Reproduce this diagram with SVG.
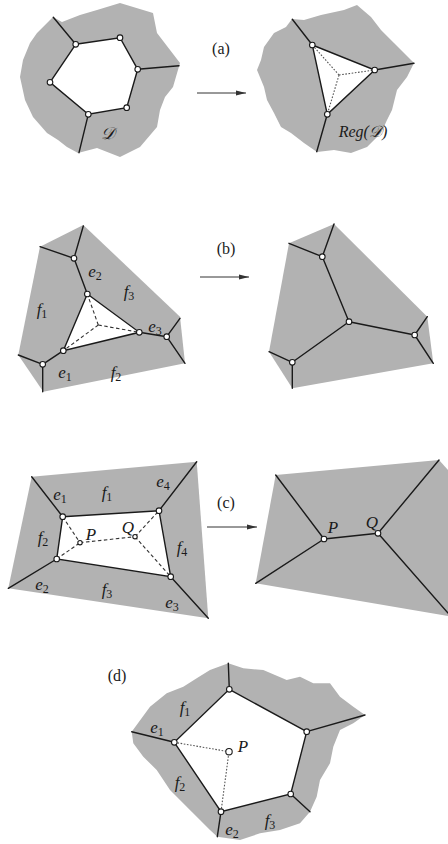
<svg xmlns="http://www.w3.org/2000/svg" width="448" height="844" viewBox="0 0 448 844">
<style>
.reg{fill:#b2b2b2;stroke:none}
.hole{fill:#fff;stroke:none}
.e{stroke:#1a1a1a;stroke-width:1.4;fill:none;stroke-linecap:round}
.dash{stroke:#333;stroke-width:1.1;fill:none;stroke-dasharray:3.5 2.5}
.dot{stroke:#555;stroke-width:1.1;fill:none;stroke-dasharray:1.6 1.6}
.v{fill:#fff;stroke:#1a1a1a;stroke-width:1.1}
.lbl{font-family:"Liberation Serif","Times New Roman","DejaVu Serif",serif;font-style:italic;font-size:17px;fill:#1a1a1a;text-anchor:middle}
.sub{font-size:12px;font-style:normal}
.tag{font-family:"Liberation Serif","Times New Roman","DejaVu Serif",serif;font-size:16px;fill:#1a1a1a;text-anchor:middle}
.arr{stroke:#333;stroke-width:1;fill:none}
</style>
<defs>
<marker id="ah" viewBox="0 0 10 6" refX="10" refY="3" markerWidth="10" markerHeight="6" markerUnits="userSpaceOnUse" orient="auto">
<path d="M0,0.5 L10,3 L0,5.5 z" fill="#333"/>
</marker>
</defs>

<g id="panel-a-left">
<polygon class="reg" points="53,17 62,22 80,15 97,10 120,3 153,13 157,33 180,63 173,87 165,97 160,110 157,127 140,147 120,157 97,148 78,153 67,147 58,140 47,133 33,117 25,100 20,77 23,60 30,43 37,33 50,20"/>
<polygon class="hole" points="75.7,44.3 120,37.7 137.7,69.3 126.7,107.7 88.3,114.3 50,82.3"/>
<polygon class="e" points="75.7,44.3 120,37.7 137.7,69.3 126.7,107.7 88.3,114.3 50,82.3"/>
<line class="e" x1="75.7" y1="44.3" x2="53.3" y2="17.3"/>
<line class="e" x1="137.7" y1="69.3" x2="179" y2="65.7"/>
<line class="e" x1="88.3" y1="114.3" x2="79" y2="152.7"/>
<g id="va1"><circle class="v" cx="75.7" cy="44.3" r="2.8"/></g>
<g id="va2"><circle class="v" cx="120" cy="37.7" r="2.8"/></g>
<g id="va3"><circle class="v" cx="137.7" cy="69.3" r="2.8"/></g>
<g id="va4"><circle class="v" cx="126.7" cy="107.7" r="2.8"/></g>
<g id="va5"><circle class="v" cx="88.3" cy="114.3" r="2.8"/></g>
<g id="va6"><circle class="v" cx="50" cy="82.3" r="2.8"/></g>
<text class="lbl" x="108" y="139">𝒟</text>
</g>

<g id="panel-a-right">
<polygon class="reg" points="292,19 304,20 321,15 344,10 357,5 371,17 381,30 394,43 414,63 407,77 397,90 392,110 387,120 381,133 367,147 351,153 334,150 317,152 304,143 291,133 281,127 274,113 267,100 264,87 257,70 261,60 264,47 274,33 286,27"/>
<polygon class="hole" points="312.3,45 374.7,70 327.3,114.3"/>
<line class="dot" x1="339" y1="75" x2="312.3" y2="45"/>
<line class="dot" x1="339" y1="75" x2="374.7" y2="70"/>
<line class="dot" x1="339" y1="75" x2="327.3" y2="114.3"/>
<polygon class="e" points="312.3,45 374.7,70 327.3,114.3"/>
<line class="e" x1="312.3" y1="45" x2="292.3" y2="19.3"/>
<line class="e" x1="374.7" y1="70" x2="414" y2="63.3"/>
<line class="e" x1="327.3" y1="114.3" x2="316.7" y2="151.7"/>
<g id="vr1"><circle class="v" cx="312.3" cy="45" r="2.8"/></g>
<g id="vr2"><circle class="v" cx="374.7" cy="70" r="2.8"/></g>
<g id="vr3"><circle class="v" cx="327.3" cy="114.3" r="2.8"/></g>
<text class="lbl" x="363" y="137" style="font-size:16px">Reg(𝒟)</text>
</g>

<g id="panel-b-left">
<polygon class="reg" points="40,246.7 83.3,225 180,316.7 185,363.3 43.3,391.7 18.3,355"/>
<polygon class="hole" points="87.3,294 139.3,332.3 63.3,350.7"/>
<line class="dash" x1="98.3" y1="325" x2="87.3" y2="294"/>
<line class="dash" x1="98.3" y1="325" x2="139.3" y2="332.3"/>
<line class="dash" x1="98.3" y1="325" x2="63.3" y2="350.7"/>
<polygon class="e" points="87.3,294 139.3,332.3 63.3,350.7"/>
<line class="e" x1="74" y1="258.3" x2="40" y2="246.7"/>
<line class="e" x1="74" y1="258.3" x2="83.3" y2="226"/>
<line class="e" x1="74" y1="258.3" x2="87.3" y2="294"/>
<line class="e" x1="139.3" y1="332.3" x2="166.7" y2="336.7"/>
<line class="e" x1="166.7" y1="336.7" x2="180" y2="318.3"/>
<line class="e" x1="166.7" y1="336.7" x2="185" y2="363.3"/>
<line class="e" x1="63.3" y1="350.7" x2="42.7" y2="364.3"/>
<line class="e" x1="42.7" y1="364.3" x2="18.3" y2="355"/>
<line class="e" x1="42.7" y1="364.3" x2="42.7" y2="391.7"/>
<g id="vbl1"><circle class="v" cx="74" cy="258.3" r="2.8"/></g>
<g id="vbl2"><circle class="v" cx="87.3" cy="294" r="2.8"/></g>
<g id="vbl3"><circle class="v" cx="139.3" cy="332.3" r="2.8"/></g>
<g id="vbl4"><circle class="v" cx="63.3" cy="350.7" r="2.8"/></g>
<g id="vbl5"><circle class="v" cx="166.7" cy="336.7" r="2.8"/></g>
<g id="vbl6"><circle class="v" cx="42.7" cy="364.3" r="2.8"/></g>
<text class="lbl" x="95" y="277">e<tspan class="sub" dy="3">2</tspan></text>
<text class="lbl" x="129" y="297">f<tspan class="sub" dy="3">3</tspan></text>
<text class="lbl" x="42" y="315">f<tspan class="sub" dy="3">1</tspan></text>
<text class="lbl" x="155" y="332">e<tspan class="sub" dy="3">3</tspan></text>
<text class="lbl" x="65" y="378">e<tspan class="sub" dy="3">1</tspan></text>
<text class="lbl" x="116" y="378">f<tspan class="sub" dy="3">2</tspan></text>
</g>

<g id="panel-b-right">
<polygon class="reg" points="289,243.3 334,224 427.3,316.7 433.3,363.3 292.3,388.3 269,351.7"/>
<line class="e" x1="322.3" y1="256.7" x2="289" y2="243.3"/>
<line class="e" x1="322.3" y1="256.7" x2="334" y2="224"/>
<line class="e" x1="322.3" y1="256.7" x2="349" y2="321.7"/>
<line class="e" x1="349" y1="321.7" x2="414.7" y2="335"/>
<line class="e" x1="349" y1="321.7" x2="292.3" y2="362.3"/>
<line class="e" x1="414.7" y1="335" x2="427.3" y2="316.7"/>
<line class="e" x1="414.7" y1="335" x2="433.3" y2="363.3"/>
<line class="e" x1="292.3" y1="362.3" x2="269" y2="351.7"/>
<line class="e" x1="292.3" y1="362.3" x2="292.3" y2="388.3"/>
<g id="vbr1"><circle class="v" cx="322.3" cy="256.7" r="2.8"/></g>
<g id="vbr2"><circle class="v" cx="349" cy="321.7" r="2.8"/></g>
<g id="vbr3"><circle class="v" cx="414.7" cy="335" r="2.8"/></g>
<g id="vbr4"><circle class="v" cx="292.3" cy="362.3" r="2.8"/></g>
</g>

<g id="panel-c-left">
<polygon class="reg" points="31.7,476.7 196.7,461.7 208.3,618.3 8.3,588.3"/>
<polygon class="hole" points="62.7,516.7 159,510.7 170.7,576.7 56.7,559"/>
<line class="dash" x1="62.7" y1="516.7" x2="80" y2="542.7"/>
<line class="dash" x1="56.7" y1="559" x2="80" y2="542.7"/>
<line class="dash" x1="80" y1="542.7" x2="135" y2="536.7"/>
<line class="dash" x1="135" y1="536.7" x2="159" y2="510.7"/>
<line class="dash" x1="135" y1="536.7" x2="170.7" y2="576.7"/>
<polygon class="e" points="62.7,516.7 159,510.7 170.7,576.7 56.7,559"/>
<line class="e" x1="62.7" y1="516.7" x2="31.7" y2="476.7"/>
<line class="e" x1="159" y1="510.7" x2="196.7" y2="461.7"/>
<line class="e" x1="170.7" y1="576.7" x2="208.3" y2="618.3"/>
<line class="e" x1="56.7" y1="559" x2="8.3" y2="588.3"/>
<g id="vcl1"><circle class="v" cx="62.7" cy="516.7" r="2.8"/></g>
<g id="vcl2"><circle class="v" cx="159" cy="510.7" r="2.8"/></g>
<g id="vcl3"><circle class="v" cx="170.7" cy="576.7" r="2.8"/></g>
<g id="vcl4"><circle class="v" cx="56.7" cy="559" r="2.8"/></g>
<g id="vclP"><circle class="v" cx="80" cy="542.7" r="2.2"/></g>
<g id="vclQ"><circle class="v" cx="135" cy="536.7" r="2.2"/></g>
<text class="lbl" x="60" y="500">e<tspan class="sub" dy="3">1</tspan></text>
<text class="lbl" x="107" y="498">f<tspan class="sub" dy="3">1</tspan></text>
<text class="lbl" x="163" y="487">e<tspan class="sub" dy="3">4</tspan></text>
<text class="lbl" x="43" y="543">f<tspan class="sub" dy="3">2</tspan></text>
<text class="lbl" x="91" y="540">P</text>
<text class="lbl" x="128" y="533">Q</text>
<text class="lbl" x="182" y="553">f<tspan class="sub" dy="3">4</tspan></text>
<text class="lbl" x="42" y="590">e<tspan class="sub" dy="3">2</tspan></text>
<text class="lbl" x="107" y="595">f<tspan class="sub" dy="3">3</tspan></text>
<text class="lbl" x="172" y="608">e<tspan class="sub" dy="3">3</tspan></text>
</g>

<g id="panel-c-right">
<polygon class="reg" points="275.7,475 439,460 448,470 448,616 255.7,583.3"/>
<line class="e" x1="324" y1="539" x2="275.7" y2="475"/>
<line class="e" x1="324" y1="539" x2="255.7" y2="583.3"/>
<line class="e" x1="324" y1="539" x2="378" y2="533.3"/>
<line class="e" x1="378" y1="533.3" x2="439" y2="460"/>
<line class="e" x1="378" y1="533.3" x2="448" y2="613"/>
<g id="vcrP"><circle class="v" cx="324" cy="539" r="2.8"/></g>
<g id="vcrQ"><circle class="v" cx="378" cy="533.3" r="2.8"/></g>
<text class="lbl" x="333" y="533">P</text>
<text class="lbl" x="372" y="528">Q</text>
</g>

<g id="panel-d">
<polygon class="reg" points="131.7,731.7 150,706.7 166.7,693.3 183.3,686.7 196.7,678.3 210,670 228.3,663.3 243.3,668.3 263.3,670 286.7,680 300,676.7 313.3,683.3 330,683.3 340,696.7 353.3,706.7 365,715 353.3,723.3 340,730 333.3,746.7 330,763.3 320,780 316.7,796.7 310,811.7 300,823.3 280,830 260,833.3 240,840 217.3,836.7 210,830 200,820 186.7,806.7 170,790 156.7,770 143.3,756.7 133.3,743.3"/>
<polygon class="hole" points="229.3,689.3 306.7,731.7 290.7,794 221,811.7 174.3,742.3"/>
<line class="dot" x1="174.3" y1="742.3" x2="229" y2="751.7"/>
<line class="dot" x1="221" y1="811.7" x2="229" y2="751.7"/>
<polygon class="e" points="229.3,689.3 306.7,731.7 290.7,794 221,811.7 174.3,742.3"/>
<line class="e" x1="229.3" y1="689.3" x2="228.3" y2="663.3"/>
<line class="e" x1="306.7" y1="731.7" x2="365" y2="715"/>
<line class="e" x1="290.7" y1="794" x2="310" y2="811.7"/>
<line class="e" x1="221" y1="811.7" x2="217.3" y2="836.7"/>
<line class="e" x1="174.3" y1="742.3" x2="131.7" y2="731.7"/>
<g id="vd1"><circle class="v" cx="229.3" cy="689.3" r="2.8"/></g>
<g id="vd2"><circle class="v" cx="306.7" cy="731.7" r="2.8"/></g>
<g id="vd3"><circle class="v" cx="290.7" cy="794" r="2.8"/></g>
<g id="vd4"><circle class="v" cx="221" cy="811.7" r="2.8"/></g>
<g id="vd5"><circle class="v" cx="174.3" cy="742.3" r="2.8"/></g>
<g id="vdP"><circle class="v" cx="229" cy="751.7" r="3.2"/></g>
<text class="lbl" x="185" y="713">f<tspan class="sub" dy="3">1</tspan></text>
<text class="lbl" x="157" y="733">e<tspan class="sub" dy="3">1</tspan></text>
<text class="lbl" x="243" y="752">P</text>
<text class="lbl" x="180" y="788">f<tspan class="sub" dy="3">2</tspan></text>
<text class="lbl" x="232" y="835">e<tspan class="sub" dy="3">2</tspan></text>
<text class="lbl" x="270" y="826">f<tspan class="sub" dy="3">3</tspan></text>
</g>

<g id="tags">
<text class="tag" x="221" y="54">(a)</text>
<text class="tag" x="226" y="254">(b)</text>
<text class="tag" x="226" y="508">(c)</text>
<text class="tag" x="117" y="681">(d)</text>
</g>

<g id="connectors">
<line class="arr" x1="197" y1="93" x2="246" y2="93" marker-end="url(#ah)"/>
<line class="arr" x1="200" y1="277" x2="249" y2="277" marker-end="url(#ah)"/>
<line class="arr" x1="207" y1="527" x2="257" y2="527" marker-end="url(#ah)"/>
</g>
</svg>
